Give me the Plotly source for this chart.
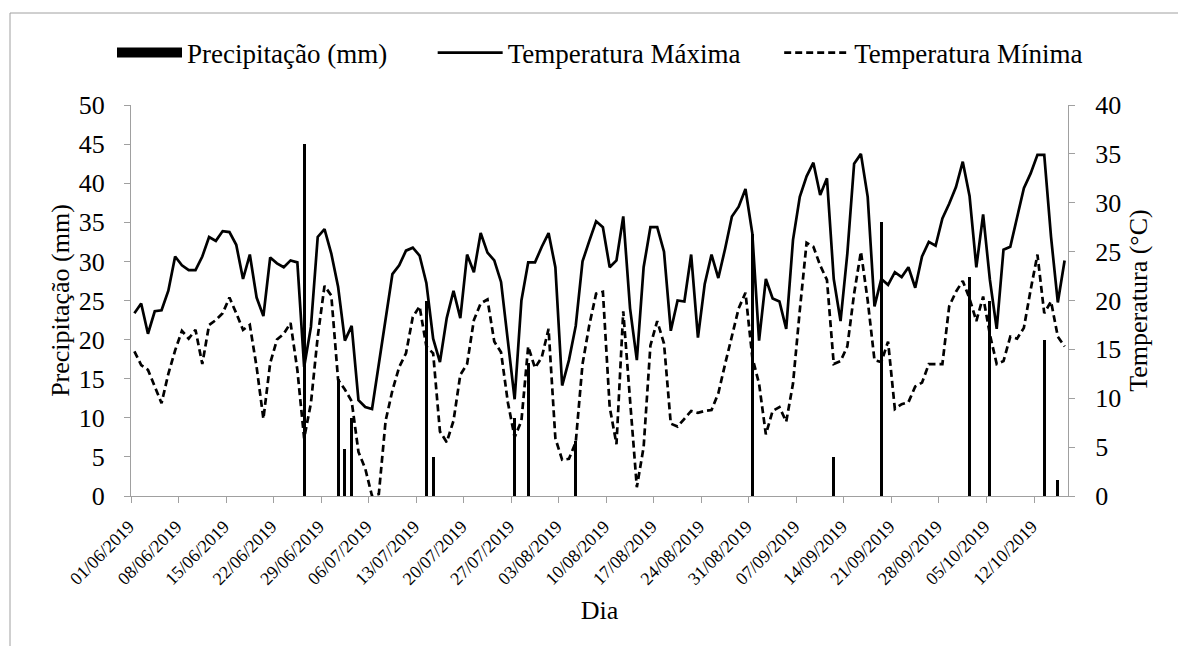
import pandas as pd
import plotly.graph_objects as go

# ---------------- data ----------------
dates = pd.date_range("2019-06-01", "2019-10-16", freq="D")

tmax = [18.7, 19.7, 16.6, 18.9, 19.0, 21.0, 24.5, 23.6, 23.1, 23.1,
        24.5, 26.5, 26.1, 27.1, 27.0, 25.7, 22.2, 24.7, 20.3, 18.4,
        24.4, 23.8, 23.4, 24.1, 23.9, 13.2, 17.3, 26.5, 27.3, 24.8,
        21.4, 15.9, 17.4, 9.8, 9.1, 8.9, 13.5, 18.0, 22.7, 23.6,
        25.1, 25.4, 24.6, 21.8, 16.1, 13.7, 18.2, 21.0, 18.2, 24.7,
        22.9, 26.9, 24.9, 24.1, 21.9, 15.9, 9.9, 20.0, 23.9, 23.9,
        25.5, 26.9, 23.4, 11.3, 13.9, 17.4, 24.0, 26.1, 28.1, 27.5,
        23.4, 24.1, 28.6, 19.2, 13.9, 23.4, 27.5, 27.5, 25.0, 16.9,
        20.0, 19.9, 24.7, 16.2, 21.7, 24.7, 22.3, 25.3, 28.6, 29.6,
        31.4, 26.9, 15.9, 22.2, 20.2, 19.9, 17.1, 26.2, 30.6, 32.7,
        34.1, 30.8, 32.5, 22.2, 17.9, 24.8, 34.0, 35.0, 30.6, 19.4,
        22.2, 21.6, 22.9, 22.4, 23.4, 21.3, 24.5, 26.0, 25.6, 28.4,
        29.9, 31.6, 34.2, 30.7, 23.4, 28.8, 22.1, 17.1, 25.2, 25.5,
        28.4, 31.5, 33.0, 34.9, 34.9, 26.5, 19.8, 24.1]

tmin = [14.8, 13.4, 12.9, 11.2, 9.5, 12.5, 14.9, 16.9, 16.1, 17.0,
        13.5, 17.5, 18.0, 18.7, 20.3, 18.7, 17.0, 17.5, 13.2, 7.9,
        13.6, 16.0, 16.6, 17.7, 12.9, 5.9, 9.5, 16.3, 21.5, 20.5,
        11.9, 10.9, 9.7, 4.5, 2.8, 0.0, 0.2, 7.7, 10.8, 13.2,
        14.6, 18.3, 19.4, 15.3, 14.6, 6.6, 5.5, 7.7, 12.4, 13.5,
        18.0, 19.7, 20.1, 15.8, 14.7, 9.6, 6.0, 7.7, 15.3, 13.1,
        14.2, 17.1, 5.9, 3.7, 3.8, 5.5, 13.5, 17.5, 20.7, 20.9,
        9.1, 5.3, 18.9, 9.8, 0.9, 5.0, 15.4, 17.9, 15.6, 7.4,
        7.1, 7.9, 8.7, 8.5, 8.7, 8.8, 10.5, 13.5, 16.3, 19.2,
        20.8, 14.2, 11.5, 6.3, 8.7, 9.1, 7.6, 11.5, 19.0, 25.9,
        25.5, 23.6, 22.1, 13.5, 13.8, 15.3, 20.7, 25.0, 20.0, 13.9,
        13.7, 15.8, 8.9, 9.4, 9.6, 11.2, 11.6, 13.5, 13.5, 13.5,
        19.4, 20.9, 22.0, 20.2, 17.9, 20.4, 16.5, 13.5, 13.8, 16.3,
        16.1, 17.2, 21.1, 24.7, 18.7, 19.9, 16.3, 15.3]

rain_dates = ["2019-06-26", "2019-07-01", "2019-07-02", "2019-07-03",
              "2019-07-14", "2019-07-15", "2019-07-27", "2019-07-29",
              "2019-08-05", "2019-08-31", "2019-09-12", "2019-09-19",
              "2019-10-02", "2019-10-05", "2019-10-13", "2019-10-15"]
rain_mm = [45, 15, 6, 10, 25, 5, 10, 17, 7, 33.5, 5, 35, 28, 25, 20, 2]

tick_dates = pd.date_range("2019-06-01", "2019-10-12", freq="7D")
tick_labels = [d.strftime("%d/%m/%Y") for d in tick_dates]

series_names = ["Precipitação (mm)", "Temperatura Máxima", "Temperatura Mínima"]

# ---------------- style ----------------
FONT = "Liberation Serif, Times New Roman, DejaVu Serif, serif"
AXIS_GRAY = "#a0a0a0"
half_day = pd.Timedelta(hours=12)
NB = "\u00a0"

fig = go.Figure()

# legend-only entry to mimic the wide black bar symbol
fig.add_trace(go.Scatter(x=[None], y=[None], mode="lines", name=series_names[0] + NB * 6,
                         line=dict(color="black", width=15), showlegend=True))
fig.add_trace(go.Bar(x=pd.to_datetime(rain_dates), y=rain_mm, name=series_names[0],
                     marker=dict(color="black", line=dict(width=0)),
                     width=0.42 * 86400000, showlegend=False, yaxis="y"))
fig.add_trace(go.Scatter(x=dates, y=tmax, mode="lines", name=series_names[1] + NB * 5,
                         line=dict(color="black", width=2.7), yaxis="y2"))
fig.add_trace(go.Scatter(x=dates, y=tmin, mode="lines", name=series_names[2],
                         line=dict(color="black", width=2.7, dash="7px,4px"), yaxis="y2"))

plot_l, plot_r, plot_t, plot_b = 131, 1068, 105, 496
W, H = 1178, 646
pw, ph = plot_r - plot_l, plot_b - plot_t

def px_x(p):
    return (p - plot_l) / pw

def px_y(p):
    return (plot_b - p) / ph

fig.update_layout(
    width=W, height=H,
    margin=dict(l=plot_l, r=W - plot_r, t=plot_t, b=H - plot_b, pad=0),
    paper_bgcolor="white", plot_bgcolor="white",
    font=dict(family=FONT, color="black", size=26),
    bargap=0,
    showlegend=True,
    legend=dict(orientation="h", x=px_x(112), xanchor="left", y=px_y(53), yanchor="middle",
                font=dict(family=FONT, size=27, color="black"),
                itemwidth=65, bgcolor="rgba(0,0,0,0)", traceorder="normal"),
    xaxis=dict(type="date",
               range=[dates[0] - half_day, dates[-1] + half_day],
               tickmode="array", tickvals=[d - half_day for d in tick_dates],
               ticktext=tick_labels, tickangle=-45, ticklabelshift=-2,
               ticklabelstandoff=6,
               tickfont=dict(family=FONT, size=18, color="black"),
               ticks="outside", ticklen=6, tickcolor=AXIS_GRAY, tickwidth=1,
               showline=True, linecolor=AXIS_GRAY, linewidth=1,
               showgrid=False, zeroline=False,
               title=dict(text="Dia", font=dict(family=FONT, size=26), standoff=13)),
    yaxis=dict(range=[0, 50], tickmode="linear", tick0=0, dtick=5,
               ticks="outside", ticklen=6, tickcolor=AXIS_GRAY, tickwidth=1,
               showline=True, linecolor=AXIS_GRAY, linewidth=1,
               showgrid=False, zeroline=False, ticklabelstandoff=14,
               tickfont=dict(family=FONT, size=26, color="black"),
               title=dict(text="Precipitação (mm)", font=dict(family=FONT, size=26), standoff=1)),
    yaxis2=dict(range=[0, 40], tickmode="linear", tick0=0, dtick=5,
                overlaying="y", side="right", anchor="x",
                ticks="outside", ticklen=6, tickcolor=AXIS_GRAY, tickwidth=1,
                showline=True, linecolor=AXIS_GRAY, linewidth=1,
                showgrid=False, zeroline=False, ticklabelstandoff=15,
                tickfont=dict(family=FONT, size=26, color="black"),
                title=dict(text="Temperatura (°C)", font=dict(family=FONT, size=26), standoff=8)),
    shapes=[
        dict(type="line", xref="paper", yref="paper", x0=px_x(10), x1=px_x(W + 5),
             y0=px_y(13), y1=px_y(13), line=dict(color=AXIS_GRAY, width=1)),
        dict(type="line", xref="paper", yref="paper", x0=px_x(10), x1=px_x(10),
             y0=px_y(13), y1=px_y(H + 5), line=dict(color=AXIS_GRAY, width=1)),
    ],
)

fig.write_html("out.html", config={"displayModeBar": False},
               post_script="document.body.style.margin='0';document.body.style.overflow='hidden';")
